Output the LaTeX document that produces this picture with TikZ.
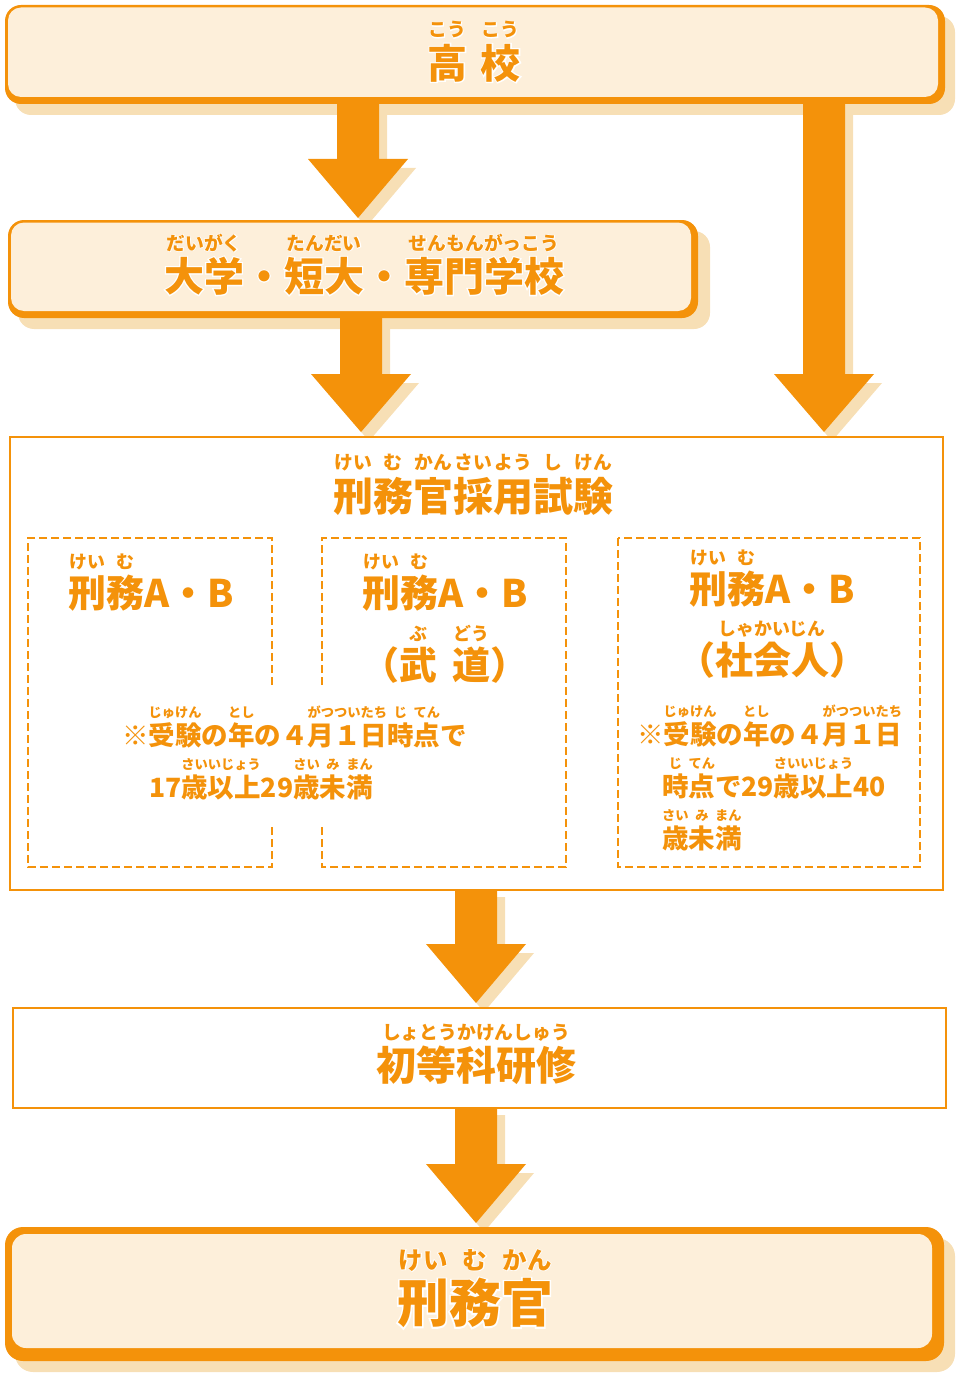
\documentclass[tikz,border=0pt]{standalone}
\usepackage{fontspec}
\setmainfont{Noto Sans CJK JP}
\newfontfamily\halofont{Noto Sans CJK JP}[UprightFeatures={FakeBold=6},BoldFeatures={FakeBold=6}]
\definecolor{org}{RGB}{244,146,10}
\definecolor{crm}{RGB}{253,239,218}
\definecolor{shd}{RGB}{247,223,181}
\newsavebox\rbbox
\newcommand\rbscale{0.47}
\newcommand\rb[2]{\leavevmode\sbox\rbbox{#1}%
 \edef\rbsz{\the\dimexpr\rbscale\fontdimen6\font\relax}%
 \rlap{\raisebox{1.03em}[0pt][0pt]{\makebox[\wd\rbbox][c]{\fontsize{\rbsz}{\rbsz}\selectfont #2}}}\usebox\rbbox}
\newcommand\arrowpath[4]{(#1-21,#2) -- (#1+21,#2) -- (#1+21,#3) -- (#1+50,#3) -- (#1,#4) -- (#1-50,#3) -- (#1-21,#3) -- cycle}
\tikzset{
 txt/.style={inner sep=0pt,text=org,font=\bfseries},
 fs/.style={font=\bfseries\fontsize{#1pt}{#1pt}\selectfont},
 dbox/.style={draw=org,line width=2.4pt,dash pattern=on 8pt off 4pt},
}
\newcommand\dtext[4]{%
 \node[txt,fs=#2,text=white] (#1h) at #3 {\halofont #4};
 \node[txt,fs=#2] (#1) at #3 {#4};}
\begin{document}
\begin{tikzpicture}[x=1pt,y=-1pt]
\useasboundingbox (0,0) rectangle (960,1375);
% box shadows
\fill[shd,rounded corners=16pt] (15,16) rectangle (955,115);
\fill[shd,rounded corners=16pt] (18,231) rectangle (710,329);
\fill[shd,rounded corners=18pt] (15,1238) rectangle (955,1372);
% arrow shadows
\begin{scope}[shift={(8,9)}]
\fill[shd] \arrowpath{358}{100}{159}{218};
\fill[shd] \arrowpath{361}{315}{374}{432};
\fill[shd] \arrowpath{824}{100}{374}{432};
\fill[shd] \arrowpath{476}{888}{944}{1003};
\fill[shd] \arrowpath{476}{1106}{1164}{1223};
\end{scope}
% arrows
\fill[org] \arrowpath{358}{100}{159}{218};
\fill[org] \arrowpath{361}{315}{374}{432};
\fill[org] \arrowpath{824}{100}{374}{432};
\fill[org] \arrowpath{476}{888}{944}{1003};
\fill[org] \arrowpath{476}{1106}{1164}{1223};
% boxes
\fill[org,rounded corners=16pt] (5,5) rectangle (945,104);
\fill[crm,rounded corners=13pt] (8,7.5) rectangle (938,97);
\fill[org,rounded corners=16pt] (8,220) rectangle (698,318);
\fill[crm,rounded corners=13pt] (11,222.5) rectangle (691,311);
\draw[org,line width=2.3pt,fill=white] (10,437) rectangle (943,890);
\draw[org,line width=2.3pt,fill=white] (13,1008) rectangle (946,1108);
\fill[org,rounded corners=18pt] (5,1227) rectangle (944,1361);
\fill[crm,rounded corners=14pt] (12,1234) rectangle (932,1348);
% dashed boxes
\draw[dbox] (272,685) -- (272,538) -- (28,538) -- (28,867) -- (272,867) -- (272,824);
\draw[dbox] (322,685) -- (322,538) -- (566,538) -- (566,867) -- (322,867) -- (322,824);
\draw[dbox] (618,538) rectangle (920,867);
% texts
\dtext{koko}{40}{(474,63)}{\rb{高}{こう}\hspace{0.33em}\rb{校}{こう}}
\dtext{daigaku}{40}{(364,276)}{\rb{大学}{だいがく}・\rb{短大}{たんだい}・\rb{専門学校}{せんもんがっこう}}
\dtext{keimukan}{52}{(475,1303)}{\rb{刑}{けい}\rb{務}{む}\rb{官}{かん}}
\node[txt,fs=40] (title) at (473,496) {\rb{刑}{けい}\rb{務}{む}\rb{官}{かん}\rb{採}{さい}\rb{用}{よう}\rb{試}{し}\rb{験}{けん}};
\node[txt,fs=38] (k1) at (151,593) {\rb{刑}{けい}\rb{務}{む}A・B};
\node[txt,fs=38] (k2) at (445,593) {\rb{刑}{けい}\rb{務}{む}A・B};
\node[txt,fs=38] (budo) at (445,665) {（\rb{武}{ぶ}\hspace{0.4em}\rb{道}{どう}）};
\node[txt,fs=38] (k3) at (772,589) {\rb{刑}{けい}\rb{務}{む}A・B};
\node[txt,fs=38] (shakai) at (772,660) {（\rb{社会人}{しゃかいじん}）};
\node[txt,fs=26.5,anchor=west] (c1) at (122,735) {\def\rbscale{0.5}※\rb{受験}{じゅけん}の\rb{年}{とし}の４\rb{月１日}{がつついたち}\rb{時}{じ}\rb{点}{てん}で};
\node[txt,fs=26.5,anchor=west] (c2) at (149,787) {\def\rbscale{0.5}17\rb{歳以上}{さいいじょう}29\rb{歳}{さい}\rb{未}{み}\rb{満}{まん}};
\node[txt,fs=26.5,anchor=west] (s1) at (637,734) {\def\rbscale{0.5}※\rb{受験}{じゅけん}の\rb{年}{とし}の４\rb{月１日}{がつついたち}};
\node[txt,fs=26.5,anchor=west] (s2) at (662,786) {\def\rbscale{0.5}\rb{時}{じ}\rb{点}{てん}で29\rb{歳以上}{さいいじょう}40};
\node[txt,fs=26.5,anchor=west] (s3) at (662,838) {\def\rbscale{0.5}\rb{歳}{さい}\rb{未}{み}\rb{満}{まん}};
\node[txt,fs=40] (shoto) at (476,1065) {\rb{初等科研修}{しょとうかけんしゅう}};
\end{tikzpicture}
\end{document}
